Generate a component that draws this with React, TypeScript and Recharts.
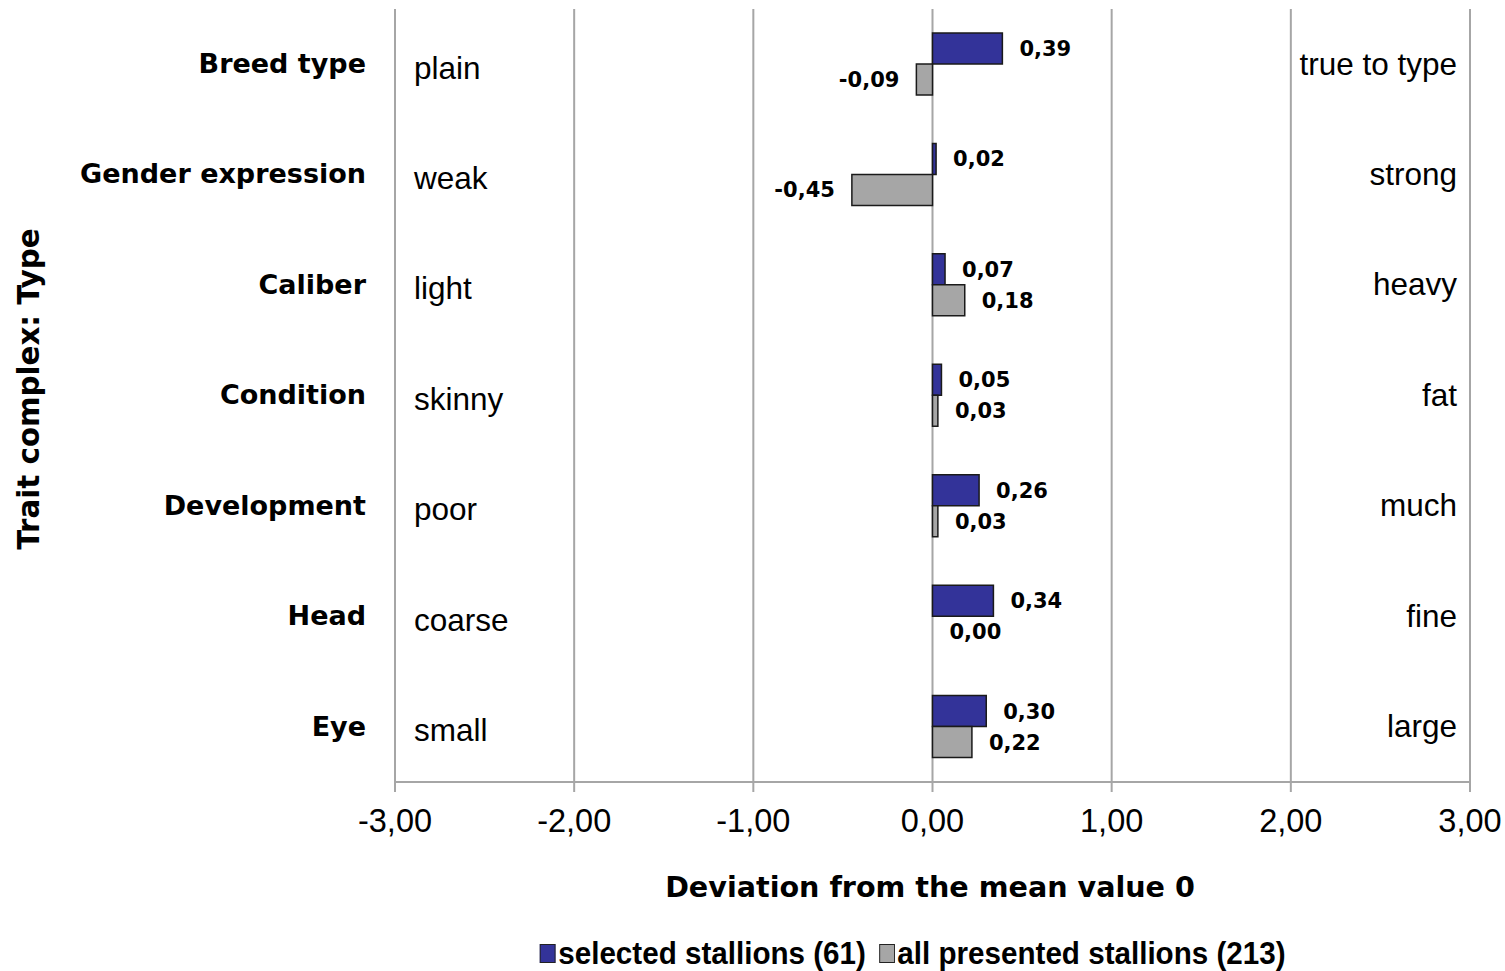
import { BarChart, Bar, XAxis, YAxis, CartesianGrid, Legend, LabelList, Cell } from 'recharts';

const traits = ['Breed type', 'Gender expression', 'Caliber', 'Condition', 'Development', 'Head', 'Eye'];
const lowLabels = ['plain', 'weak', 'light', 'skinny', 'poor', 'coarse', 'small'];
const highLabels = ['true to type', 'strong', 'heavy', 'fat', 'much', 'fine', 'large'];
const selectedStallions = [0.39, 0.02, 0.07, 0.05, 0.26, 0.34, 0.3];
const allStallions = [-0.09, -0.45, 0.18, 0.03, 0.03, 0.0, 0.22];
const xTicks = [-3, -2, -1, 0, 1, 2, 3];

const BLUE = '#333399';
const GRAY = '#a6a6a6';
const GRID = '#a6a6a6';
const EDGE = '#1a1a1a';
const BOLD_FONT = '"DejaVu Sans", Verdana, sans-serif';
const PLAIN_FONT = '"Liberation Sans", Arial, sans-serif';

const chartData = traits.map((name, i) => ({
  name,
  low: lowLabels[i],
  high: highLabels[i],
  selected: selectedStallions[i],
  all: allStallions[i],
}));

const fmt = (v: number) => v.toFixed(2).replace('.', ',');

function TraitTick(props: any) {
  const { y, payload, index } = props;
  return (
    <g>
      <text x={366} y={y - 1} dy="0.36em" textAnchor="end" fontFamily={BOLD_FONT} fontWeight="bold" fontSize={27} fill="#000">
        {payload.value}
      </text>
      <text x={414} y={y + 3} dy="0.36em" textAnchor="start" fontFamily={PLAIN_FONT} fontSize={31.5} fill="#000">
        {lowLabels[index]}
      </text>
      <text x={1457} y={y - 1} dy="0.36em" textAnchor="end" fontFamily={PLAIN_FONT} fontSize={31.5} fill="#000">
        {highLabels[index]}
      </text>
    </g>
  );
}

function ValueLabel(props: any) {
  const { x, y, width, height, value } = props;
  const left = Math.min(x, x + width);
  const right = Math.max(x, x + width);
  const neg = value < 0;
  return (
    <text
      x={neg ? left - 17 : right + 17}
      y={y + height / 2}
      dy="0.36em"
      textAnchor={neg ? 'end' : 'start'}
      fontFamily={BOLD_FONT}
      fontWeight="bold"
      fontSize={21}
      fill="#000"
    >
      {fmt(value)}
    </text>
  );
}

function LegendContent() {
  const items = [
    { label: 'selected stallions (61)', color: BLUE },
    { label: 'all presented stallions (213)', color: GRAY },
  ];
  return (
    <div style={{ display: 'flex', justifyContent: 'center', paddingLeft: 333 }}>
      <div style={{ display: 'flex', alignItems: 'center', transform: 'scaleX(0.925)' }}>
        {items.map((it) => (
          <div key={it.label} style={{ display: 'flex', alignItems: 'center', marginRight: 14 }}>
            <span
              style={{
                display: 'inline-block',
                width: 15,
                height: 17,
                background: it.color,
                border: '1.5px solid #222',
                marginRight: 3,
              }}
            />
            <span
              style={{
                fontFamily: PLAIN_FONT,
                fontWeight: 'bold',
                fontSize: 32,
                color: '#000',
                lineHeight: '32px',
              }}
            >
              {it.label}
            </span>
          </div>
        ))}
      </div>
    </div>
  );
}

export default function App() {
  return (
    <div style={{ position: 'absolute', left: 0, top: 0, background: '#fff' }}>
      <BarChart
        width={1505}
        height={971}
        data={chartData}
        layout="vertical"
        margin={{ top: 9, right: 35, bottom: 97, left: 0 }}
        barGap={0}
        barSize={31}
      >
        <CartesianGrid horizontal={false} stroke={GRID} strokeWidth={2} />
        <XAxis
          type="number"
          domain={[-3, 3]}
          ticks={xTicks}
          interval={0}
          tickFormatter={fmt}
          axisLine={{ stroke: GRID, strokeWidth: 2 }}
          tickLine={{ stroke: GRID, strokeWidth: 2 }}
          tickSize={10}
          tickMargin={17}
          height={60}
          tick={{ fill: '#000', fontSize: 32.5, fontFamily: PLAIN_FONT }}
          label={{
            content: () => (
              <text x={930} y={887} dy="0.36em" textAnchor="middle" fontFamily={BOLD_FONT} fontWeight="bold" fontSize={28.6} fill="#000">
                Deviation from the mean value 0
              </text>
            ),
          }}
        />
        <YAxis
          type="category"
          dataKey="name"
          width={395}
          axisLine={false}
          tickLine={false}
          interval={0}
          tick={<TraitTick />}
          label={{
            content: () => (
              <text
                x={28}
                y={389}
                dy="0.36em"
                textAnchor="middle"
                transform="rotate(-90 28 389)"
                fontFamily={BOLD_FONT}
                fontWeight="bold"
                fontSize={29.3}
                fill="#000"
              >
                Trait complex: Type
              </text>
            ),
          }}
        />
        <Legend verticalAlign="bottom" content={<LegendContent />} wrapperStyle={{ bottom: 'auto', top: 937, left: 0, width: 1505 }} />
        <Bar dataKey="selected" name="selected stallions (61)" fill={BLUE} stroke={EDGE} strokeWidth={1.5} isAnimationActive={false}>
          <LabelList dataKey="selected" content={<ValueLabel />} />
        </Bar>
        <Bar
          dataKey="all"
          name="all presented stallions (213)"
          fill={GRAY}
          stroke={EDGE}
          strokeWidth={1.5}
          minPointSize={0.01}
          isAnimationActive={false}
        >
          {chartData.map((d) => (
            <Cell key={d.name} stroke={d.all === 0 ? 'none' : EDGE} />
          ))}
          <LabelList dataKey="all" content={<ValueLabel />} />
        </Bar>
      </BarChart>
    </div>
  );
}
